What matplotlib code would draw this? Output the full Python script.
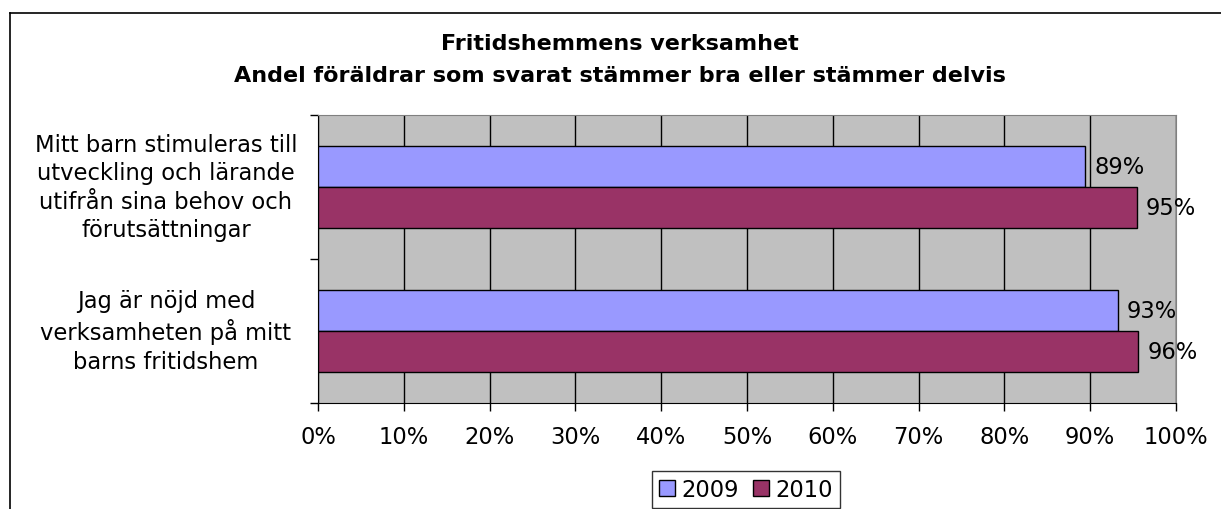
import numpy as np
import matplotlib.pyplot as plt
from matplotlib.lines import Line2D
from matplotlib.transforms import blended_transform_factory

categories = ["Mitt barn stimuleras till\nutveckling och lärande\nutifrån sina behov och\nförutsättningar",
              "Jag är nöjd med\nverksamheten på mitt\nbarns fritidshem"]
years = ["2009", "2010"]
values_2009 = [0.894, 0.932]
values_2010 = [0.954, 0.956]
colors = ["#9999FF", "#993366"]
xticks = np.arange(0, 1.01, 0.1)

W, H = 1221, 510
FS = 16.3
fig = plt.figure(figsize=(W / 100, H / 100), dpi=100)
ax = fig.add_axes([318 / W, 1 - 404 / H, 858 / W, 288 / H])
ax.set_facecolor("#C0C0C0")

# top category drawn at top of the axis
ypos = np.array([1.5, 0.5])
bh = 0.285
b1 = ax.barh(ypos + bh / 2, values_2009, height=bh, color=colors[0], edgecolor="black", lw=1, label=years[0], zorder=3)
b2 = ax.barh(ypos - bh / 2, values_2010, height=bh, color=colors[1], edgecolor="black", lw=1, label=years[1], zorder=3)

for bars, vals in [(b1, values_2009), (b2, values_2010)]:
    for rect, v in zip(bars, vals):
        ax.annotate(f"{v * 100:.0f}%", (v, rect.get_y() + rect.get_height() / 2),
                    xytext=(6.5, 0), textcoords="offset points", va="center", ha="left", fontsize=FS)

ax.set_xlim(0, 1)
ax.set_ylim(0, 2)
ax.set_xticks(xticks)
ax.set_xticklabels([f"{t * 100:.0f}%" for t in xticks], fontsize=FS)
ax.set_yticks([0, 1, 2])
ax.set_yticklabels([])
ax.tick_params(axis="both", direction="out", length=6, width=1, color="black")
ax.tick_params(axis="x", pad=10)
ax.grid(axis="x", color="black", lw=1, zorder=1)
ax.set_axisbelow(True)
for s in ["top", "right"]:
    ax.spines[s].set_color("#808080")
for s in ["left", "bottom"]:
    ax.spines[s].set_color("black")

tr = blended_transform_factory(fig.transFigure, ax.transData)
for y, cat in zip(ypos, categories):
    ax.text(166 / W, y, cat, transform=tr, ha="center", va="center", multialignment="center",
            fontsize=FS, linespacing=1.31)

fig.text(620 / W, 1 - 60 / H, "Fritidshemmens verksamhet\nAndel föräldrar som svarat stämmer bra eller stämmer delvis",
         ha="center", va="center", fontsize=16, fontweight="bold", linespacing=1.75)

leg = fig.legend(handles=[b1, b2], loc="upper center", bbox_to_anchor=(746 / W, 1 - 472 / H), ncol=2,
                 fontsize=FS, frameon=True, fancybox=False, handlelength=0.7, handleheight=0.7,
                 handletextpad=0.3, columnspacing=0.6, borderpad=0.3, borderaxespad=0)
leg.get_frame().set_edgecolor("black")
leg.get_frame().set_linewidth(1)

# outer chart frame
fig.add_artist(Line2D([10 / W, 10 / W], [0, 1 - 14 / H], color="black", lw=1.2, transform=fig.transFigure))
fig.add_artist(Line2D([10 / W, 1], [1 - 14 / H, 1 - 14 / H], color="black", lw=1.2, transform=fig.transFigure))

fig.savefig("out.png", dpi=100)
